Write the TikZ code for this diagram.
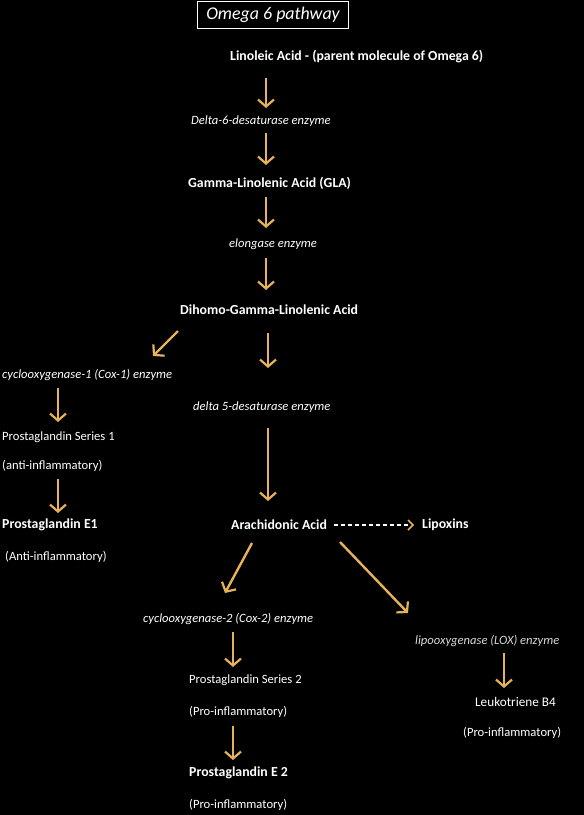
\documentclass[tikz,border=0pt]{standalone}
\usepackage{fontspec}
\setmainfont{Carlito}
\usetikzlibrary{arrows.meta}
\definecolor{gold}{HTML}{E6B25A}
\definecolor{lgray}{HTML}{D8D8D8}
\begin{document}
\begin{tikzpicture}[x=1pt,y=-1pt,
  txt/.style={text=white,inner sep=0pt,anchor=west,font=\fontsize{12.6}{14}\selectfont},
  bld/.style={txt,font=\fontsize{13.8}{16}\selectfont\bfseries},
  itl/.style={txt,font=\fontsize{12.6}{14}\selectfont\itshape},
  arr/.style={draw=gold,line width=2.4pt,-{Straight Barb[length=7pt,width=16pt,line width=2.2pt]}},
  ]
\fill[black] (0,0) rectangle (584,815);
\useasboundingbox (0,0) rectangle (584,815);
\node[draw=white,line width=1pt,text=white,minimum width=151pt,minimum height=27pt,inner sep=0pt,font=\fontsize{17.9}{20}\selectfont\itshape] (title) at (273,15) {Omega 6 pathway};
\node[bld] (la) at (230,57) {Linoleic Acid - (parent molecule of Omega 6)};
\node[itl] (d6) at (191,121) {Delta-6-desaturase enzyme};
\node[bld] (gla) at (188,183) {Gamma-Linolenic Acid (GLA)};
\node[itl] (elo) at (229,244) {elongase enzyme};
\node[bld] (dgla) at (180,310) {Dihomo-Gamma-Linolenic Acid};
\node[itl] (cox1) at (2,375) {cyclooxygenase-1 (Cox-1) enzyme};
\node[itl] (d5) at (193,407) {delta 5-desaturase enzyme};
\node[txt] (ps1) at (2,437) {Prostaglandin Series 1};
\node[txt] (ai1) at (2,466) {(anti-inflammatory)};
\node[bld] (pe1) at (2,525) {Prostaglandin E1};
\node[txt] (ai2) at (5,557) {(Anti-inflammatory)};
\node[bld] (aa) at (231,525) {Arachidonic Acid};
\node[bld] (lip) at (422,525) {Lipoxins};
\node[itl] (cox2) at (143,619) {cyclooxygenase-2 (Cox-2) enzyme};
\node[txt] (ps2) at (189,680) {Prostaglandin Series 2};
\node[txt] (pi1) at (189,712) {(Pro-inflammatory)};
\node[bld] (pe2) at (189,773) {Prostaglandin E 2};
\node[txt] (pi2) at (189,805) {(Pro-inflammatory)};
\node[itl,text=lgray] (lox) at (415,641) {lipooxygenase (LOX) enzyme};
\node[txt,font=\fontsize{13.2}{15}\selectfont] (lt) at (475,702) {Leukotriene B4};
\node[txt] (pi3) at (463,733) {(Pro-inflammatory)};
% arrows
\draw[arr] (266,78) -- (266,108);
\draw[arr] (266,133) -- (266,165);
\draw[arr] (266,197) -- (266,228);
\draw[arr] (266,258) -- (266,290);
\draw[arr] (178,331) -- (153,356);
\draw[arr] (268,333) -- (268,368);
\draw[arr] (58,388) -- (58,422);
\draw[arr] (58,479) -- (58,513);
\draw[arr] (268,428) -- (268,501);
\draw[white,line width=1.2pt,dash pattern=on 4pt off 3pt] (334,525) -- (410,525);
\draw[gold,line width=1.5pt] (408,520) -- (413,525) -- (408,530);
\draw[arr] (252,543) -- (225,593);
\draw[arr] (340,542) -- (408,613);
\draw[arr] (233,632) -- (233,667);
\draw[arr] (233,726) -- (233,760);
\draw[arr] (504,653) -- (504,688);
\end{tikzpicture}
\end{document}
